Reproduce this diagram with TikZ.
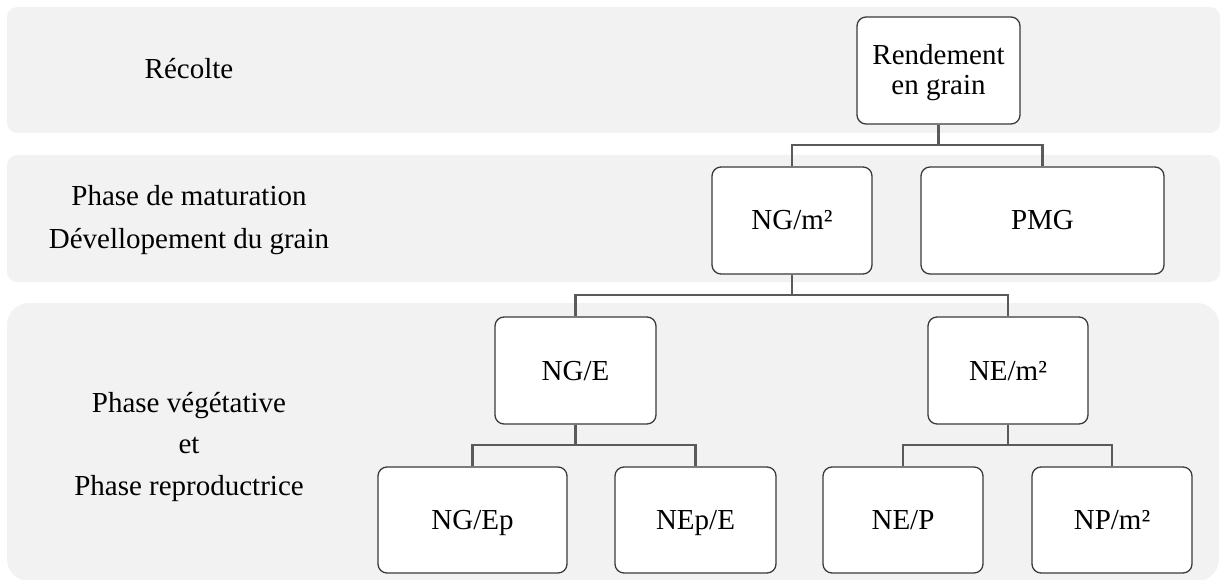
\documentclass[tikz,border=0pt]{standalone}
\usepackage{fontspec}
\setmainfont{Liberation Serif}
\definecolor{bandgray}{HTML}{F2F2F2}
\definecolor{linkgray}{HTML}{5A5A5A}
\definecolor{boxline}{HTML}{3A3A3A}
\tikzset{
  band/.style={fill=bandgray, draw=none},
  box/.style={draw=boxline, line width=1.3pt, fill=white, rounded corners=9pt,
    inner sep=0pt, align=center, font=\fontsize{29}{30}\selectfont,
    text height=22pt, text depth=3pt},
  link/.style={draw=linkgray, line width=2.6pt},
  phase/.style={align=center, inner sep=0pt}
}
\begin{document}
\begin{tikzpicture}[x=1pt,y=-1pt]
\useasboundingbox (0,0) rectangle (1221,580);
\clip (0,0) rectangle (1221,580);
% bands
\fill[band, rounded corners=10pt] (7,7) rectangle (1220,133);
\fill[band, rounded corners=10pt] (7,155) rectangle (1220,282);
\fill[band, rounded corners=22pt] (7,303) rectangle (1219,581);
% phase labels
\node[phase, font=\fontsize{29}{30}\selectfont, anchor=base] (l1) at (189,79) {Récolte};
\node[phase, font=\fontsize{29}{43}\selectfont, text height=63pt, text depth=7pt] (l2) at (189,220) {Phase de maturation\\Dévellopement du grain};
\node[phase, font=\fontsize{29}{41.5}\selectfont, text height=103pt, text depth=7pt] (l3) at (189,447) {Phase végétative\\et\\Phase reproductrice};
% nodes
\node[box, minimum width=163pt, minimum height=107pt, text height=56pt, text depth=7pt] (rend) at (938.5,70.5) {Rendement\\en grain};
\node[box, minimum width=160pt, minimum height=107pt] (ngm2) at (792,220.5) {NG/m²};
\node[box, minimum width=243pt, minimum height=107pt] (pmg) at (1042.5,220.5) {PMG};
\node[box, minimum width=161pt, minimum height=107pt] (nge) at (575.5,370.5) {NG/E};
\node[box, minimum width=160pt, minimum height=107pt] (nem2) at (1008,370.5) {NE/m²};
\node[box, minimum width=189pt, minimum height=106pt] (ngep) at (472.5,520) {NG/Ep};
\node[box, minimum width=161pt, minimum height=106pt] (nepe) at (695.5,520) {NEp/E};
\node[box, minimum width=160pt, minimum height=106pt] (nep) at (903,520) {NE/P};
\node[box, minimum width=160pt, minimum height=106pt] (npm2) at (1112,520) {NP/m²};
% connectors
\draw[link] (rend.south) -- (rend.south |- 0,145) -| (ngm2.north);
\draw[link] (rend.south |- 0,145) -| (pmg.north);
\draw[link] (ngm2.south) -- (ngm2.south |- 0,295) -| (nge.north);
\draw[link] (ngm2.south |- 0,295) -| (nem2.north);
\draw[link] (nge.south) -- (nge.south |- 0,445) -| (ngep.north);
\draw[link] (nge.south |- 0,445) -| (nepe.north);
\draw[link] (nem2.south) -- (nem2.south |- 0,445) -| (nep.north);
\draw[link] (nem2.south |- 0,445) -| (npm2.north);
\end{tikzpicture}
\end{document}
